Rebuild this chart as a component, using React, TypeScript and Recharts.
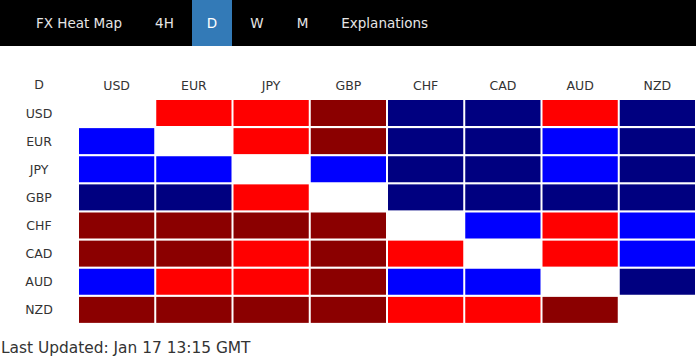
import { Bar, BarChart, Cell, XAxis, YAxis } from "recharts";

const currencies = ["USD", "EUR", "JPY", "GBP", "CHF", "CAD", "AUD", "NZD"];

// strength of row currency vs column currency: 2 strong up, 1 up, 0 same, -1 down, -2 strong down
const strengthUSD = [0, 1, 1, 2, -2, -2, 1, -2];
const strengthEUR = [-1, 0, 1, 2, -2, -2, -1, -2];
const strengthJPY = [-1, -1, 0, -1, -2, -2, -1, -2];
const strengthGBP = [-2, -2, 1, 0, -2, -2, -2, -2];
const strengthCHF = [2, 2, 2, 2, 0, -1, 1, -1];
const strengthCAD = [2, 2, 1, 2, 1, 0, 1, -1];
const strengthAUD = [-1, 1, 1, 2, -1, -1, 0, -2];
const strengthNZD = [2, 2, 2, 2, 1, 1, 2, 0];

const strengths = [
  strengthUSD,
  strengthEUR,
  strengthJPY,
  strengthGBP,
  strengthCHF,
  strengthCAD,
  strengthAUD,
  strengthNZD,
];

const menuItems = ["FX Heat Map", "4H", "D", "W", "M", "Explanations"];
const activeMenu = "D";
const updatedText = "Last Updated: Jan 17 13:15 GMT";

const colorFor = (v: number) => {
  if (v === 2) return "#8b0000";
  if (v === 1) return "#ff0000";
  if (v === -1) return "#0000ff";
  if (v === -2) return "#000080";
  return "#ffffff";
};

const rows = currencies.map((name) => {
  const row: Record<string, string | number> = { name };
  currencies.forEach((c) => (row[c] = 1));
  return row;
});

const FONT = "'DejaVu Sans', Verdana, sans-serif";

const CellRect = (props: any) => {
  const { x, y, width, height, fill } = props;
  return <rect x={x + 1} y={y} width={width - 2} height={height} fill={fill} />;
};

export default function App() {
  return (
    <div
      style={{
        position: "absolute",
        left: 0,
        top: 0,
        width: 696,
        height: 360,
        background: "#fff",
        fontFamily: FONT,
        overflow: "hidden",
      }}
    >
      <div
        style={{
          height: 46,
          background: "#000",
          display: "flex",
          alignItems: "stretch",
          paddingLeft: 21,
          gap: 3,
        }}
      >
        {menuItems.map((m) => (
          <div
            key={m}
            style={{
              padding: "0 15px",
              lineHeight: "47px",
              fontSize: 13.5,
              color: m === activeMenu ? "#fff" : "#e6e6e6",
              background: m === activeMenu ? "#337ab7" : "transparent",
            }}
          >
            {m}
          </div>
        ))}
      </div>
      <div
        style={{
          position: "absolute",
          left: 0,
          top: 77,
          width: 78,
          textAlign: "center",
          fontSize: 12.5,
          lineHeight: "16px",
          color: "#333",
        }}
      >
        D
      </div>
      <div style={{ position: "absolute", left: 0, top: 0 }}>
        <BarChart
          width={696}
          height={330}
          data={rows}
          layout="vertical"
          barCategoryGap={1}
          margin={{ top: 69, right: 0, bottom: 6, left: 0 }}
        >
          <XAxis
            type="number"
            orientation="top"
            domain={[0, currencies.length]}
            ticks={currencies.map((_, i) => i + 0.5)}
            tickFormatter={(v: number) => currencies[Math.floor(v)]}
            interval={0}
            axisLine={false}
            tickLine={false}
            tickSize={0}
            tickMargin={9}
            height={30}
            tick={{ fill: "#333", fontSize: 12.5, fontFamily: FONT }}
          />
          <YAxis
            type="category"
            dataKey="name"
            width={78}
            axisLine={false}
            tickLine={false}
            tickSize={0}
            tickMargin={39}
            interval={0}
            tick={{ fill: "#333", fontSize: 12.5, fontFamily: FONT, textAnchor: "middle" }}
          />
          {currencies.map((c, ci) => (
            <Bar
              key={c}
              dataKey={c}
              stackId="grid"
              isAnimationActive={false}
              shape={CellRect}
            >
              {strengths.map((row, ri) => (
                <Cell key={ri} fill={colorFor(row[ci])} />
              ))}
            </Bar>
          ))}
        </BarChart>
      </div>
      <div
        style={{
          position: "absolute",
          left: 1,
          top: 338,
          fontSize: 15.4,
          lineHeight: "20px",
          color: "#333",
        }}
      >
        {updatedText}
      </div>
    </div>
  );
}
